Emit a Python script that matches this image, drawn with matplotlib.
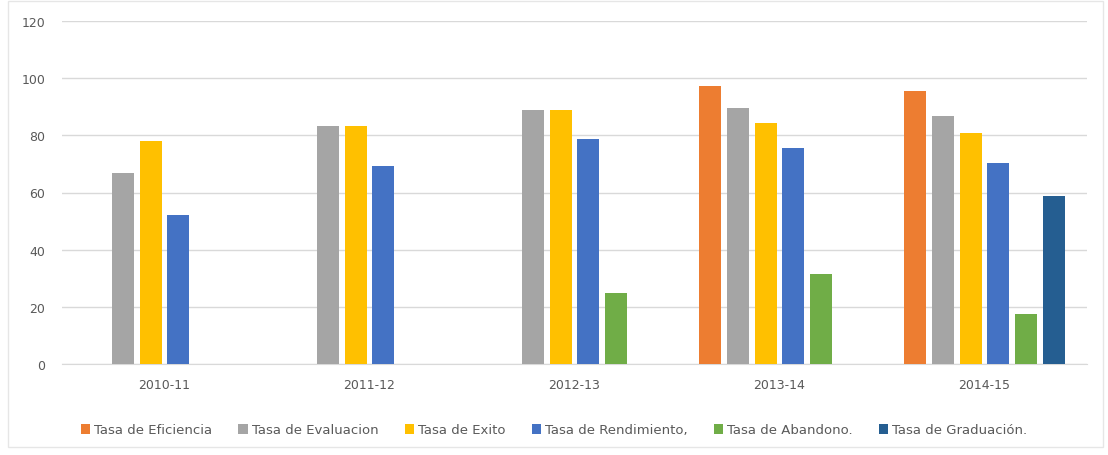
import numpy as np
import matplotlib

matplotlib.use("Agg")
import matplotlib.pyplot as plt
from matplotlib.patches import Rectangle

years = ["2010-11", "2011-12", "2012-13", "2013-14", "2014-15"]
series_names = [
    "Tasa de Eficiencia",
    "Tasa de Evaluacion",
    "Tasa de Exito",
    "Tasa de Rendimiento,",
    "Tasa de Abandono.",
    "Tasa de Graduación.",
]
eficiencia = [np.nan, np.nan, np.nan, 97.2, 95.5]
evaluacion = [66.7, 83.4, 88.7, 89.6, 86.7]
exito = [77.9, 83.4, 89.0, 84.3, 80.9]
rendimiento = [52.3, 69.4, 78.8, 75.6, 70.3]
abandono = [np.nan, np.nan, 24.8, 31.4, 17.5]
graduacion = [np.nan, np.nan, np.nan, np.nan, 58.8]
colors = ["#ED7D31", "#A5A5A5", "#FFC000", "#4472C4", "#70AD47", "#255E91"]

values = [eficiencia, evaluacion, exito, rendimiento, abandono, graduacion]

plt.rcParams["font.family"] = ["DejaVu Sans"]
text_color = "#595959"

fig = plt.figure(figsize=(11.08, 4.56), dpi=100)
ax = fig.add_axes([62 / 1108, 1 - 365 / 456, (1087 - 62) / 1108, (365 - 22) / 456])

x = np.arange(len(years))
slot = 0.135
width = 0.107
for i, (name, vals, color) in enumerate(zip(series_names, values, colors)):
    offset = (i - 2.5) * slot
    ax.bar(x + offset, vals, width=width, color=color, label=name, zorder=3)

ax.set_xlim(-0.5, len(years) - 0.5)
ax.set_ylim(0, 120)
ax.set_yticks(range(0, 121, 20))
ax.set_xticks(x)
ax.set_xticklabels(years)
ax.tick_params(axis="both", length=0, colors=text_color, labelsize=9)
ax.tick_params(axis="x", pad=10)
ax.tick_params(axis="y", pad=12)
ax.grid(True, axis="y", color="#D9D9D9", linewidth=1, zorder=0)
for side in ["top", "right", "left"]:
    ax.spines[side].set_visible(False)
ax.spines["bottom"].set_color("#D9D9D9")

fig.legend(
    loc="center",
    bbox_to_anchor=(0.5, 1 - 431 / 456),
    ncol=6,
    frameon=False,
    fontsize=9.5,
    handlelength=0.7,
    handleheight=0.7,
    handletextpad=0.3,
    columnspacing=2.0,
    labelcolor=text_color,
)

fig.patches.append(
    Rectangle((8 / 1108, 8 / 456), 1095 / 1108, 446 / 456, transform=fig.transFigure,
              fill=False, edgecolor="#E6E6E6", linewidth=1)
)

fig.savefig("out.png", dpi=100)
